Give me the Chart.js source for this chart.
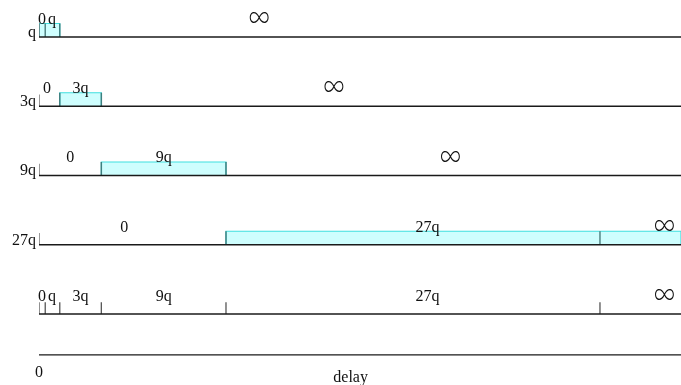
<!DOCTYPE html>
<html><head><meta charset="utf-8">
<script src="https://cdn.jsdelivr.net/npm/chart.js@4/dist/chart.umd.min.js"></script>
<style>html,body{margin:0;padding:0;background:#fff}#w{width:681px;height:385px}</style>
</head><body><div id="w"><canvas id="c"></canvas></div>
<script>
// ---- data ----
const rowLabels = ['q', '3q', '9q', '27q'];
const xMax = 30.9;               // right edge of the delay axis (in units of q)
const boundaries = [0, 0.3, 1, 3, 9, 27];   // interval boundaries (bottom row ticks)
const rectStart = [0, 1, 3, 9];
const rectEnd = [1, 3, 9, 30.9];
const rectDividers = [[0.3], [], [], [27]];
const rowTextLabels = [
  ['0', 'q', '∞'],
  ['0', '3q', '∞'],
  ['0', '9q', '∞'],
  ['0', '27q', '∞']
];
const rowTextPos = [
  [0.15, 0.62, 10.6],
  [0.39, 2.0, 14.2],
  [1.5, 6.0, 19.8],
  [4.1, 18.7, 30.1]
];
const bottomLabels = ['0', 'q', '3q', '9q', '27q', '∞'];
const bottomLabelPos = [0.15, 0.62, 2.0, 6.0, 18.7, 30.1];
const axisTickLabels = ['0'];
const axisTickPos = [0];
const axisTitle = 'delay';
const axisTitlePos = 15;

// ---- layout in row units (row i baseline at y = i) ----
const RECT_H = 0.195;
const TICK_H = 0.17;
const AXIS_Y = 4.59;
const nRows = rowLabels.length;

const datasets = [];
for (let i = 0; i <= nRows; i++) {
  datasets.push({type:'line', data:[{x:0,y:i},{x:xMax,y:i}], borderColor:'#1a1a1a', borderWidth:1.4, pointRadius:0, fill:false, order:1});
}
datasets.push({type:'line', data:[{x:0,y:AXIS_Y},{x:xMax,y:AXIS_Y}], borderColor:'#1a1a1a', borderWidth:1.4, pointRadius:0, fill:false, order:1});
for (let i = 0; i < nRows; i++) {
  const a = rectStart[i], b = rectEnd[i];
  datasets.push({type:'line', data:[{x:a,y:i},{x:a,y:i-RECT_H},{x:b,y:i-RECT_H},{x:b,y:i}],
    borderColor:'#3fe0e0', borderWidth:1.2, backgroundColor:'#cefefe', pointRadius:0,
    fill:{target:{value:i}}, tension:0, order:3});
  [a, b].concat(rectDividers[i]).forEach(v => {
    if (v > 0 && v < xMax) datasets.push({type:'line', data:[{x:v,y:i},{x:v,y:i-RECT_H}], borderColor:'rgba(60,110,110,0.85)', borderWidth:1.5, pointRadius:0, fill:false, order:2});
  });
  datasets.push({type:'line', data:[{x:0,y:i},{x:0,y:i-(i===0?RECT_H:TICK_H)}], borderColor:'#555', borderWidth:1.2, pointRadius:0, fill:false, order:2});
}
boundaries.forEach(v => {
  datasets.push({type:'line', data:[{x:v,y:nRows},{x:v,y:nRows-TICK_H}], borderColor:'#555', borderWidth:1.3, pointRadius:0, fill:false, order:2});
});

const textPlugin = {
  id:'texts',
  afterDatasetsDraw(chart) {
    const ctx = chart.ctx, xs = chart.scales.x, ys = chart.scales.y;
    ctx.save();
    ctx.fillStyle = '#111';
    const font = '16px "Liberation Serif", "Times New Roman", serif';
    function put(t, x, y, align, base) {
      ctx.textAlign = align; ctx.textBaseline = base;
      if (t === '∞') {
        ctx.save();
        ctx.font = '300 20px "Noto Sans CJK JP", sans-serif';
        ctx.textBaseline = 'middle';
        ctx.translate(x, y);
        ctx.scale(1.02, 1.35);
        ctx.fillText(t, 0, 0);
        ctx.restore();
        return;
      }
      ctx.font = font;
      ctx.fillText(t, x, y);
    }
    for (let i = 0; i < nRows; i++) {
      const by = ys.getPixelForValue(i);
      put(rowLabels[i], xs.getPixelForValue(0) - 3, by, 'right', 'alphabetic');
      rowTextLabels[i].forEach((t, k) => {
        const px = xs.getPixelForValue(rowTextPos[i][k]);
        if (t === '∞') put(t, px, by - 19, 'center', 'middle');
        else put(t, px, by - 13, 'center', 'alphabetic');
      });
    }
    const bb = ys.getPixelForValue(nRows);
    bottomLabels.forEach((t, k) => {
      const px = xs.getPixelForValue(bottomLabelPos[k]);
      if (t === '∞') put(t, px, bb - 19, 'center', 'middle');
      else put(t, px, bb - 13, 'center', 'alphabetic');
    });
    const ay = ys.getPixelForValue(AXIS_Y);
    axisTickLabels.forEach((t, k) => put(t, xs.getPixelForValue(axisTickPos[k]), ay + 22, 'center', 'alphabetic'));
    put(axisTitle, xs.getPixelForValue(axisTitlePos), ay + 27, 'center', 'alphabetic');
    ctx.restore();
  }
};

new Chart(document.getElementById('c'), {
  type:'line',
  data:{datasets},
  options:{
    responsive:true, maintainAspectRatio:false, animation:false,
    layout:{padding:{left:39, right:0, top:0, bottom:0}},
    plugins:{legend:{display:false}, tooltip:{enabled:false}},
    scales:{
      x:{type:'linear', min:0, max:xMax, display:false},
      y:{type:'linear', min:-0.534, max:5.025, reverse:true, display:false}
    }
  },
  plugins:[textPlugin]
});
</script></body></html>
